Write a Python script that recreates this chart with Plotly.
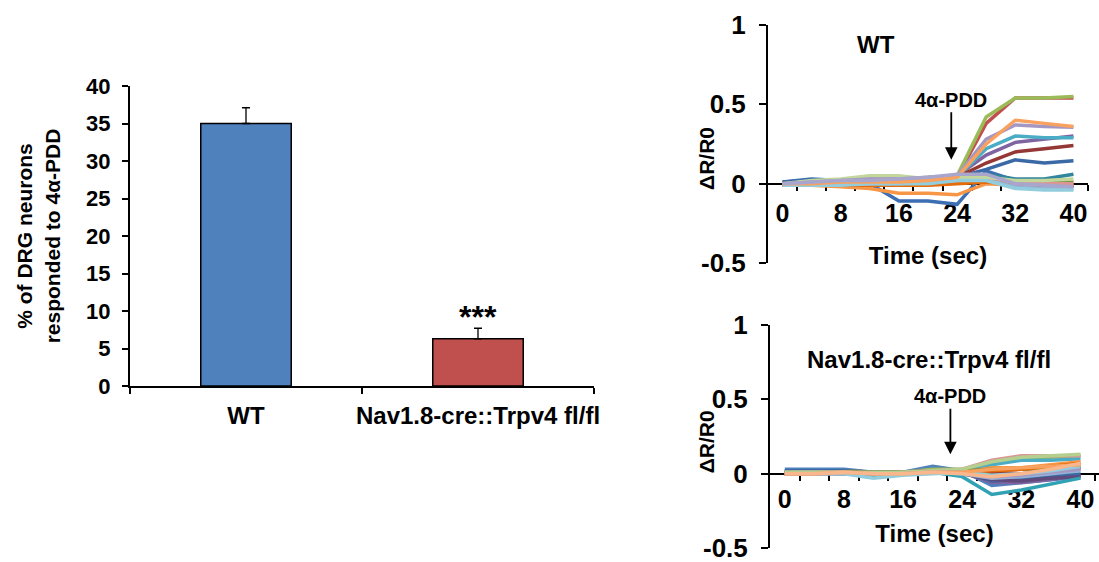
import plotly.graph_objects as go

# ---------------- data ----------------
groups = ["WT", "Nav1.8-cre::Trpv4 fl/fl"]
pct_responded = [35.0, 6.3]
pct_sem = [2.1, 1.4]
bar_colors = ["#4F81BD", "#C0504D"]

time_sec = [0, 4, 8, 12, 16, 20, 24, 28, 32, 36, 40]
time_ticks = [0, 8, 16, 24, 32, 40]
minor_ticks = [2, 6, 10, 14, 18, 22, 26, 30, 34, 38, 42]

wt_colors = ["#3C6EB4", "#C0504D", "#9BBB59", "#8064A2", "#4BACC6", "#F79646",
             "#3A69A6", "#953735", "#77933C", "#604A7B", "#31859C", "#E46C0A",
             "#95B3D7", "#D99694", "#C3D69B", "#A597C4", "#93CDDD", "#F9A15E", "#A8A6CC"]
wt_traces = [
    [0.01, 0.03, 0.02, 0.00, -0.11, -0.11, -0.13, 0.08, 0.02, 0.00, -0.02],
    [0.00, 0.01, 0.02, 0.02, 0.03, 0.03, 0.04, 0.38, 0.54, 0.54, 0.54],
    [0.00, 0.01, 0.02, 0.03, 0.03, 0.04, 0.05, 0.42, 0.54, 0.54, 0.55],
    [0.00, 0.00, 0.01, 0.02, 0.02, 0.03, 0.05, 0.18, 0.26, 0.28, 0.30],
    [0.00, 0.01, 0.01, 0.02, 0.01, 0.02, 0.04, 0.22, 0.30, 0.29, 0.29],
    [-0.01, -0.01, -0.02, -0.03, -0.06, -0.06, -0.07, 0.00, -0.01, -0.01, 0.00],
    [0.01, 0.02, 0.02, 0.02, 0.03, 0.03, 0.04, 0.09, 0.15, 0.13, 0.145],
    [0.00, 0.00, 0.01, 0.02, 0.02, 0.03, 0.04, 0.13, 0.20, 0.22, 0.24],
    [0.00, 0.01, 0.01, 0.01, 0.01, 0.02, 0.03, 0.03, 0.01, 0.01, 0.01],
    [0.00, 0.00, 0.00, 0.01, 0.00, 0.00, 0.02, 0.02, 0.00, -0.01, -0.01],
    [0.00, 0.01, 0.01, 0.02, 0.02, 0.02, 0.04, 0.06, 0.03, 0.03, 0.06],
    [-0.01, -0.01, -0.01, -0.01, -0.01, -0.01, 0.00, 0.01, 0.00, -0.01, -0.01],
    [0.00, 0.00, 0.00, 0.00, 0.00, 0.01, 0.03, 0.03, -0.02, -0.03, -0.03],
    [0.00, 0.00, 0.00, 0.00, 0.01, 0.01, 0.02, 0.04, 0.01, 0.00, 0.00],
    [0.00, 0.02, 0.03, 0.05, 0.05, 0.03, 0.04, 0.04, 0.02, 0.02, 0.03],
    [0.00, 0.01, 0.02, 0.03, 0.03, 0.04, 0.05, 0.28, 0.37, 0.36, 0.355],
    [-0.01, -0.01, -0.01, 0.00, 0.00, 0.00, 0.02, 0.02, -0.03, -0.04, -0.04],
    [0.00, 0.00, 0.01, 0.01, 0.01, 0.02, 0.04, 0.25, 0.40, 0.38, 0.36],
    [0.00, 0.01, 0.02, 0.02, 0.03, 0.04, 0.06, 0.06, 0.00, -0.01, -0.02],
]

nav_colors = ["#4F81BD", "#C0504D", "#9BBB59", "#8064A2", "#4BACC6", "#F79646",
              "#3A69A6", "#953735", "#77933C", "#604A7B", "#31A2B4", "#E46C0A",
              "#95B3D7", "#D99694", "#B5CF8E", "#A597C4", "#93CDDD", "#F9A15E", "#FAB68C"]
nav_traces = [
    [0.03, 0.03, 0.03, 0.01, 0.01, 0.05, 0.02, -0.08, -0.06, -0.04, -0.02],
    [0.01, 0.01, 0.02, 0.01, 0.01, 0.02, 0.02, 0.04, 0.03, 0.03, 0.04],
    [0.01, 0.01, 0.02, 0.01, 0.01, 0.03, 0.03, 0.07, 0.10, 0.11, 0.12],
    [0.00, 0.00, 0.01, 0.00, 0.00, 0.01, 0.01, -0.06, -0.06, -0.04, -0.01],
    [0.01, 0.01, 0.01, 0.00, 0.01, 0.02, 0.02, 0.06, 0.09, 0.09, 0.10],
    [0.00, 0.00, 0.01, 0.00, 0.00, 0.01, 0.01, 0.04, 0.04, 0.06, 0.08],
    [0.02, 0.02, 0.02, 0.01, 0.01, 0.02, 0.01, -0.05, -0.04, -0.02, 0.00],
    [0.01, 0.01, 0.01, 0.01, 0.01, 0.02, 0.02, 0.01, 0.00, 0.02, 0.04],
    [0.01, 0.01, 0.01, 0.01, 0.01, 0.02, 0.02, 0.03, 0.03, 0.04, 0.05],
    [0.00, 0.00, 0.00, 0.00, 0.00, 0.01, 0.00, -0.04, -0.05, -0.03, -0.02],
    [0.01, 0.01, 0.00, -0.01, 0.00, 0.01, -0.02, -0.14, -0.11, -0.07, -0.03],
    [0.00, 0.00, 0.01, 0.00, 0.00, 0.01, 0.01, 0.02, 0.03, 0.05, 0.07],
    [0.01, 0.01, 0.01, 0.00, 0.00, 0.01, 0.00, -0.03, -0.02, 0.00, 0.02],
    [0.01, 0.01, 0.01, 0.00, 0.01, 0.02, 0.03, 0.09, 0.12, 0.12, 0.12],
    [0.01, 0.01, 0.01, 0.01, 0.01, 0.02, 0.03, 0.08, 0.11, 0.12, 0.13],
    [0.00, 0.00, 0.00, 0.00, 0.00, 0.01, 0.01, -0.02, -0.01, 0.01, 0.03],
    [0.00, 0.00, 0.00, -0.03, -0.01, 0.00, 0.01, -0.01, 0.00, 0.02, 0.05],
    [0.00, 0.00, 0.01, 0.00, 0.00, 0.01, 0.01, 0.03, 0.04, 0.05, 0.06],
    [0.00, 0.00, 0.01, 0.00, 0.00, 0.01, 0.00, -0.02, 0.00, 0.03, 0.07],
]

# ---------------- figure ----------------
FONT = "Liberation Sans, Arial, sans-serif"
W, H = 1099, 562

bar_dom_x = [130 / W, 594 / W]
bar_dom_y = [176 / H, 476 / H]
wt_dom_x = [768 / W, 1088 / W]
wt_dom_y = [299 / H, 537 / H]
nav_dom_x = [770 / W, 1.0]
nav_dom_y = [14 / H, 237 / H]
y_rng = [-0.5, 1.0]


def zero_pos(dom):
    return dom[0] + (0 - y_rng[0]) / (y_rng[1] - y_rng[0]) * (dom[1] - dom[0])


fig = go.Figure()

fig.add_trace(go.Bar(
    x=groups, y=pct_responded, width=0.39,
    marker=dict(color=bar_colors, line=dict(color="black", width=1.5)),
    error_y=dict(type="data", array=pct_sem, arrayminus=[0, 0], symmetric=False,
                 color="black", thickness=1.3, width=4),
    xaxis="x", yaxis="y", showlegend=False,
))

for vals, col in zip(wt_traces, wt_colors):
    fig.add_trace(go.Scatter(x=time_sec, y=vals, mode="lines",
                             line=dict(color=col, width=3.5),
                             xaxis="x2", yaxis="y2", showlegend=False))
for vals, col in zip(nav_traces, nav_colors):
    fig.add_trace(go.Scatter(x=time_sec, y=vals, mode="lines",
                             line=dict(color=col, width=3.5),
                             xaxis="x3", yaxis="y3", showlegend=False))

bold = dict(family=FONT, color="black", weight="bold")

fig.update_layout(
    width=W, height=H, autosize=False,
    margin=dict(l=0, r=0, t=0, b=0, pad=0),
    paper_bgcolor="white", plot_bgcolor="white",
    font=dict(family=FONT, color="black"),
    xaxis=dict(domain=bar_dom_x, anchor="y", type="category", range=[-0.5, 1.5],
               automargin=False, tickangle=0,
               showline=True, linecolor="black", linewidth=2,
               ticks="outside", tickson="boundaries", ticklen=6, tickwidth=2,
               tickcolor="black", ticklabelstandoff=7,
               tickfont=dict(size=24, **bold), showgrid=False, zeroline=False),
    yaxis=dict(domain=bar_dom_y, anchor="x", range=[0, 40], dtick=5,
               automargin=False,
               showline=True, linecolor="black", linewidth=2,
               ticks="outside", ticklen=6, tickwidth=2, tickcolor="black",
               ticklabelstandoff=7,
               tickfont=dict(size=22, **bold), showgrid=False, zeroline=False,
               title=dict(text="% of DRG neurons<br>responded to 4α-PDD",
                          font=dict(size=21, **bold), standoff=20)),
    xaxis2=dict(domain=wt_dom_x, anchor="free", position=zero_pos(wt_dom_y),
                range=[-2, 42], tickvals=time_ticks, ticks="",
                automargin=False, tickangle=0,
                ticklabelstandoff=7,
                minor=dict(tickvals=minor_ticks, ticks="outside", ticklen=6,
                           tickwidth=2, tickcolor="black"),
                showline=True, linecolor="black", linewidth=2, layer="below traces",
                tickfont=dict(size=25, **bold), showgrid=False, zeroline=False,
                title=dict(text="Time (sec)", font=dict(size=24, **bold), standoff=21)),
    yaxis2=dict(domain=wt_dom_y, anchor="x2", range=y_rng,
                automargin=False,
                tickvals=[-0.5, 0, 0.5, 1], ticktext=["-0.5", "0", "0.5", "1"],
                showline=True, linecolor="black", linewidth=2,
                ticks="outside", ticklen=7, tickwidth=2, tickcolor="black",
                ticklabelstandoff=8,
                tickfont=dict(size=26, **bold), showgrid=False, zeroline=False),
    xaxis3=dict(domain=nav_dom_x, anchor="free", position=zero_pos(nav_dom_y),
                range=[-2, 42.5], tickvals=time_ticks, ticks="",
                automargin=False, tickangle=0, ticklabeloverflow="allow",
                ticklabelstandoff=3,
                minor=dict(tickvals=minor_ticks, ticks="outside", ticklen=6,
                           tickwidth=2, tickcolor="black"),
                showline=True, linecolor="black", linewidth=2, layer="below traces",
                tickfont=dict(size=25, **bold), showgrid=False, zeroline=False,
                title=dict(text="Time (sec)", font=dict(size=24, **bold), standoff=13)),
    yaxis3=dict(domain=nav_dom_y, anchor="x3", range=y_rng,
                automargin=False, ticklabeloverflow="allow",
                tickvals=[-0.5, 0, 0.5, 1], ticktext=["-0.5", "0", "0.5", "1"],
                showline=True, linecolor="black", linewidth=2,
                ticks="outside", ticklen=7, tickwidth=2, tickcolor="black",
                ticklabelstandoff=8,
                tickfont=dict(size=26, **bold), showgrid=False, zeroline=False),
)

annots = [
    # significance stars
    dict(x=groups[1], y=pct_responded[1] + pct_sem[1], xref="x", yref="y",
         text="***", showarrow=False, yanchor="bottom", yshift=-9,
         font=dict(size=32, **bold)),
    # panel titles
    dict(x=12.8, y=0.875, xref="x2", yref="y2", text="WT", showarrow=False,
         font=dict(size=24, **bold)),
    dict(x=19.5, y=0.77, xref="x3", yref="y3", text="Nav1.8-cre::Trpv4 fl/fl",
         showarrow=False, font=dict(size=24, **bold)),
    # stimulus arrows
    dict(x=23.2, y=0.15, xref="x2", yref="y2", text="4α-PDD", showarrow=True,
         ax=0, ay=-60, arrowhead=2, arrowsize=1.4, arrowwidth=1.8, arrowcolor="black",
         font=dict(size=20, **bold)),
    dict(x=22.4, y=0.13, xref="x3", yref="y3", text="4α-PDD", showarrow=True,
         ax=0, ay=-58, arrowhead=2, arrowsize=1.4, arrowwidth=1.8, arrowcolor="black",
         font=dict(size=20, **bold)),
    # y titles of trace panels
    dict(x=-0.234, y=0.44, xref="x2 domain", yref="y2 domain", text="ΔR/R0",
         textangle=-90, showarrow=False, font=dict(size=21, **bold)),
    dict(x=-0.233, y=0.478, xref="x3 domain", yref="y3 domain", text="ΔR/R0",
         textangle=-90, showarrow=False, font=dict(size=21, **bold)),
]
fig.update_layout(annotations=annots)

fig.write_html("out.html", config={"displayModeBar": False},
               post_script="document.body.style.margin = '0';")
